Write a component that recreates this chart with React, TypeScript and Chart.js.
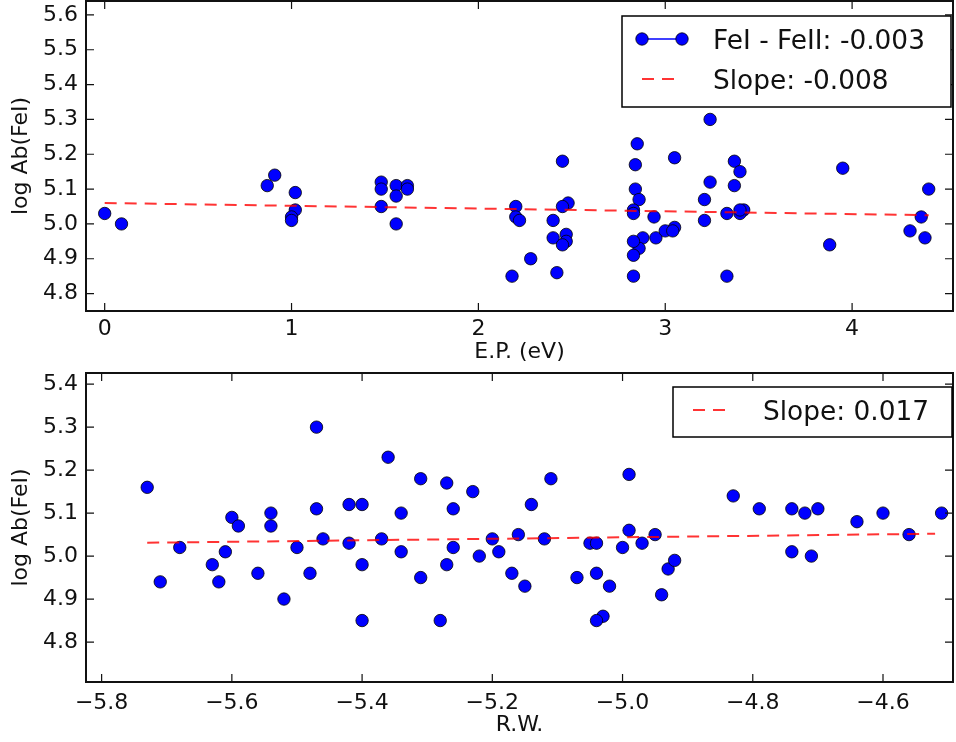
import React, { useEffect, useRef } from "react";
import { Chart, registerables } from "chart.js";

Chart.register(...registerables);

// ---------- Data: top panel (excitation potential) ----------
const EP_X = [
  0.0, 0.09, 0.87, 0.91, 1.02, 1.02, 1.0, 1.0,
  1.48, 1.48, 1.48, 1.56, 1.56, 1.56, 1.62, 1.62,
  2.18, 2.28, 2.2, 2.2, 2.22,
  2.45, 2.48, 2.45, 2.4, 2.4, 2.47, 2.47, 2.45, 2.42,
  2.85, 2.84, 2.84, 2.86, 2.83, 2.83, 2.94, 2.88, 2.86, 2.83, 2.83, 2.83,
  2.95, 3.0, 3.05, 3.04, 3.05,
  3.24, 3.24, 3.21, 3.21, 3.33, 3.33, 3.37, 3.4, 3.37, 3.42, 3.4, 3.4,
  3.95, 3.88, 4.41, 4.37, 4.31, 4.39,
];
const EP_Y = [
  5.03, 5.0, 5.11, 5.14, 5.09, 5.04, 5.02, 5.01,
  5.12, 5.1, 5.05, 5.11, 5.08, 5.0, 5.11, 5.1,
  4.85, 4.9, 5.05, 5.02, 5.01,
  5.18, 5.06, 5.05, 5.01, 4.96, 4.97, 4.95, 4.94, 4.86,
  5.23, 5.17, 5.1, 5.07, 5.04, 5.03, 5.02, 4.96, 4.93, 4.95, 4.91, 4.85,
  4.96, 4.98, 4.99, 4.98, 5.19,
  5.3, 5.12, 5.07, 5.01, 4.85, 5.03, 5.18, 5.15, 5.11, 5.04, 5.03, 5.04,
  5.16, 4.94, 5.1, 5.02, 4.98, 4.96,
];
const EP_FIT_X = [0.0, 4.41];
const EP_FIT_Y = [5.06, 5.025];
const EP_X_TICKS = [0, 1, 2, 3, 4];
const EP_Y_TICKS = [4.8, 4.9, 5.0, 5.1, 5.2, 5.3, 5.4, 5.5, 5.6];

// ---------- Data: bottom panel (reduced width) ----------
const RW_X = [
  -5.73, -5.71, -5.68, -5.63, -5.62, -5.61, -5.6, -5.59, -5.56, -5.54, -5.54,
  -5.52, -5.5, -5.48, -5.47, -5.47, -5.46,
  -5.36, -5.31, -5.27, -5.23, -5.11, -4.99,
  -5.42, -5.4, -5.34, -5.26, -5.14,
  -5.42, -5.37, -5.34, -5.26, -5.22, -5.2, -5.19, -5.16, -5.12,
  -5.4, -5.27, -5.31, -5.17, -5.15, -5.4, -5.28,
  -5.07, -5.05, -5.04, -5.04, -5.02, -5.03, -5.04, -5.0, -4.99, -4.97, -4.95,
  -4.94, -4.93, -4.92,
  -4.83, -4.79, -4.74, -4.72, -4.7, -4.74, -4.71, -4.64, -4.6, -4.56, -4.51,
];
const RW_Y = [
  5.16, 4.94, 5.02, 4.98, 4.94, 5.01, 5.09, 5.07, 4.96, 5.1, 5.07,
  4.9, 5.02, 4.96, 5.3, 5.11, 5.04,
  5.23, 5.18, 5.17, 5.15, 5.18, 5.19,
  5.12, 5.12, 5.1, 5.11, 5.12,
  5.03, 5.04, 5.01, 5.02, 5.0, 5.04, 5.01, 5.05, 5.04,
  4.98, 4.98, 4.95, 4.96, 4.93, 4.85, 4.85,
  4.95, 5.03, 5.03, 4.96, 4.93, 4.86, 4.85, 5.02, 5.06, 5.03, 5.05,
  4.91, 4.97, 4.99,
  5.14, 5.11, 5.11, 5.1, 5.11, 5.01, 5.0, 5.08, 5.1, 5.05, 5.1,
];
const RW_FIT_X = [-5.73, -4.52];
const RW_FIT_Y = [5.031, 5.052];
const RW_X_TICKS = [-5.8, -5.6, -5.4, -5.2, -5.0, -4.8, -4.6];
const RW_Y_TICKS = [4.8, 4.9, 5.0, 5.1, 5.2, 5.3, 5.4];

// ---------- Labels ----------
const LABEL_FE = "FeI - FeII: -0.003";
const LABEL_EP_SLOPE = "Slope: -0.008";
const LABEL_RW_SLOPE = "Slope: 0.017";
const Y_TITLE = "log Ab(FeI)";
const EP_TITLE = "E.P. (eV)";
const RW_TITLE = "R.W.";

const FONT = "'DejaVu Sans', sans-serif";
const TEXT = "#111";
const BLUE = "#0000ff";
const RED = "rgba(255,0,0,0.8)";
const DASH = [12, 8];

const fmtMinus = (v: number, d: number) => {
  const s = v.toFixed(d);
  return s.startsWith("-") ? "\u2212" + s.slice(1) : s;
};

const framePlugin = {
  id: "mplFrame",
  afterDraw(chart: any) {
    const { ctx, chartArea: a, scales } = chart;
    const L = 8;
    ctx.save();
    ctx.strokeStyle = "#111";
    ctx.lineWidth = 1.2;
    ctx.beginPath();
    for (const t of scales.x.ticks) {
      const px = scales.x.getPixelForValue(t.value);
      ctx.moveTo(px, a.bottom);
      ctx.lineTo(px, a.bottom - L);
      ctx.moveTo(px, a.top);
      ctx.lineTo(px, a.top + L);
    }
    for (const t of scales.y.ticks) {
      const py = scales.y.getPixelForValue(t.value);
      ctx.moveTo(a.left, py);
      ctx.lineTo(a.left + L, py);
      ctx.moveTo(a.right, py);
      ctx.lineTo(a.right - L, py);
    }
    ctx.stroke();
    ctx.lineWidth = 2;
    ctx.strokeStyle = "#111";
    ctx.strokeRect(a.left, a.top, a.right - a.left, a.bottom - a.top);
    ctx.restore();
  },
};

const legendPlugin = {
  id: "mplLegend",
  afterDraw(chart: any, _args: any, o: any) {
    if (!o || !o.box) return;
    const ctx = chart.ctx;
    const [x0, y0, x1, y1] = o.box;
    ctx.save();
    ctx.fillStyle = "#fff";
    ctx.fillRect(x0, y0, x1 - x0, y1 - y0);
    ctx.strokeStyle = "#000";
    ctx.lineWidth = 1.5;
    ctx.strokeRect(x0, y0, x1 - x0, y1 - y0);
    for (const r of o.rows) {
      const [hx0, hx1] = o.handle;
      if (r.kind === "marker") {
        ctx.strokeStyle = BLUE;
        ctx.lineWidth = 1.5;
        ctx.setLineDash([]);
        ctx.beginPath();
        ctx.moveTo(hx0, r.y);
        ctx.lineTo(hx1, r.y);
        ctx.stroke();
        for (const cx of [hx0, hx1]) {
          ctx.beginPath();
          ctx.arc(cx, r.y, 6.2, 0, Math.PI * 2);
          ctx.fillStyle = BLUE;
          ctx.fill();
          ctx.strokeStyle = "#000";
          ctx.lineWidth = 0.8;
          ctx.stroke();
        }
      } else {
        ctx.strokeStyle = RED;
        ctx.lineWidth = 2;
        ctx.setLineDash(DASH);
        ctx.beginPath();
        ctx.moveTo(hx0, r.y);
        ctx.lineTo(hx1, r.y);
        ctx.stroke();
        ctx.setLineDash([]);
      }
      ctx.fillStyle = TEXT;
      ctx.font = `26.4px ${FONT}`;
      ctx.textBaseline = "alphabetic";
      ctx.textAlign = "left";
      ctx.fillText(r.label, o.textX, r.base);
    }
    ctx.restore();
  },
};

function pts(xs: number[], ys: number[]) {
  return xs.map((x, i) => ({ x, y: ys[i] }));
}

function makeConfig(p: any) {
  return {
    type: "scatter",
    data: {
      datasets: [
        {
          label: p.slopeLabel,
          data: pts(p.fitX, p.fitY),
          showLine: true,
          borderColor: RED,
          borderWidth: 2,
          borderDash: DASH,
          pointRadius: 0,
          fill: false,
          order: 0,
        },
        {
          label: LABEL_FE,
          data: pts(p.xs, p.ys),
          pointRadius: 6.2,
          backgroundColor: BLUE,
          borderColor: "#000",
          borderWidth: 0.8,
          order: 1,
        },
      ],
    },
    options: {
      responsive: false,
      animation: false,
      devicePixelRatio: 1,
      layout: { autoPadding: false, padding: { left: 0, right: 3, top: p.padTop, bottom: 0 } },
      plugins: {
        legend: { display: false },
        tooltip: { enabled: false },
        mplLegend: p.legend,
      },
      scales: {
        x: {
          type: "linear",
          min: p.xMin,
          max: p.xMax,
          grid: { display: false, drawTicks: false },
          border: { display: false },
          ticks: {
            font: { family: FONT, size: 22 },
            color: TEXT,
            padding: p.xTickPad,
            maxRotation: 0,
            callback: (v: number) => fmtMinus(v, p.xDec),
          },
          afterBuildTicks: (s: any) => {
            s.ticks = p.xTicks.map((v: number) => ({ value: v }));
          },
          afterFit: (s: any) => {
            s.height = p.xAxisH;
            s.paddingLeft = 0;
            s.paddingRight = 0;
          },
          title: {
            display: true,
            text: p.xTitle,
            color: TEXT,
            font: { family: FONT, size: 22 },
            padding: { top: 0, bottom: p.xTitlePad },
          },
        },
        y: {
          type: "linear",
          min: p.yMin,
          max: p.yMax,
          grid: { display: false, drawTicks: false },
          border: { display: false },
          ticks: {
            font: { family: FONT, size: 22 },
            color: TEXT,
            padding: 8,
            callback: (v: number) => fmtMinus(v, 1),
          },
          afterBuildTicks: (s: any) => {
            s.ticks = p.yTicks.map((v: number) => ({ value: v }));
          },
          afterFit: (s: any) => {
            s.width = 86;
            s.paddingTop = 0;
            s.paddingBottom = 0;
          },
          title: {
            display: true,
            text: Y_TITLE,
            color: TEXT,
            font: { family: FONT, size: 22 },
            padding: { top: 8, bottom: 0 },
          },
        },
      },
    },
    plugins: [framePlugin, legendPlugin],
  };
}

function Panel(props: { cfg: any; w: number; h: number; top: number }) {
  const ref = useRef<HTMLCanvasElement | null>(null);
  useEffect(() => {
    if (!ref.current) return;
    const chart = new Chart(ref.current, makeConfig(props.cfg) as any);
    return () => chart.destroy();
  }, []);
  return (
    <canvas
      ref={ref}
      width={props.w}
      height={props.h}
      style={{ position: "absolute", left: 0, top: props.top, width: props.w, height: props.h }}
    />
  );
}

export default function App() {
  const topCfg = {
    xs: EP_X,
    ys: EP_Y,
    fitX: EP_FIT_X,
    fitY: EP_FIT_Y,
    slopeLabel: LABEL_EP_SLOPE,
    xMin: -0.1,
    xMax: 4.54,
    yMin: 4.75,
    yMax: 5.64,
    xTicks: EP_X_TICKS,
    yTicks: EP_Y_TICKS,
    xDec: 0,
    xTitle: EP_TITLE,
    padTop: 1,
    xAxisH: 59,
    xTickPad: 5,
    xTitlePad: 5,
    legend: {
      box: [622, 16, 951, 107],
      handle: [642, 682],
      textX: 713,
      rows: [
        { kind: "marker", label: LABEL_FE, y: 39, base: 48.5 },
        { kind: "dash", label: LABEL_EP_SLOPE, y: 79, base: 89 },
      ],
    },
  };
  const botCfg = {
    xs: RW_X,
    ys: RW_Y,
    fitX: RW_FIT_X,
    fitY: RW_FIT_Y,
    slopeLabel: LABEL_RW_SLOPE,
    xMin: -5.824,
    xMax: -4.4925,
    yMin: 4.707,
    yMax: 5.426,
    xTicks: RW_X_TICKS,
    yTicks: RW_Y_TICKS,
    xDec: 1,
    xTitle: RW_TITLE,
    padTop: 3,
    xAxisH: 60,
    xTickPad: 8,
    xTitlePad: 4,
    legend: {
      box: [673, 17, 952, 67],
      handle: [693, 729],
      textX: 763,
      rows: [{ kind: "dash", label: LABEL_RW_SLOPE, y: 40, base: 49.5 }],
    },
  };
  return (
    <div style={{ position: "absolute", left: 0, top: 0, width: 956, height: 742, background: "#fff" }}>
      <Panel cfg={topCfg} w={956} h={370} top={0} />
      <Panel cfg={botCfg} w={956} h={372} top={370} />
    </div>
  );
}
